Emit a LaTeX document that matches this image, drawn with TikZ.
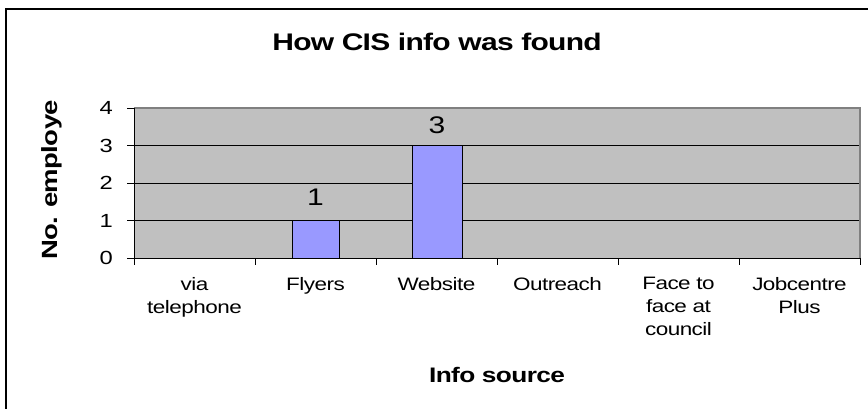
\documentclass[tikz,border=0pt]{standalone}
\usepackage{fontspec}
\setmainfont{Liberation Sans}[FakeStretch=1.25, LetterSpace=-3]
\definecolor{plotgray}{HTML}{C0C0C0}
\definecolor{barblue}{HTML}{9999FF}
\definecolor{edgegray}{HTML}{808080}
\tikzset{%
  bar/.style={draw=black, fill=barblue, line width=1pt},
  ticklabel/.style={anchor=east, inner sep=0pt, font=\fontsize{19}{19}\selectfont},
  catlabel/.style={anchor=north, inner sep=0pt, align=center, font=\fontsize{18}{23}\selectfont},
  datalabel/.style={anchor=base, inner sep=0pt, font=\fontsize{24}{24}\selectfont},
  charttitle/.style={anchor=base, inner sep=0pt, font=\bfseries\fontsize{24}{24}\selectfont},
  axistitle/.style={anchor=base, inner sep=0pt, font=\bfseries\fontsize{21}{21}\selectfont},
}
% one category step and one unit of the value axis, in pixels
\newcommand{\catw}{121}
\newcommand{\unith}{37.5}
\begin{document}
\begin{tikzpicture}[x=1pt, y=-1pt]
  \useasboundingbox (0,0) rectangle (868,408);
  % chart frame, cut at the right and bottom
  \draw[line width=1.5pt] (6,9) rectangle (890,430);
  \node[charttitle] (title) at (437,50) {How CIS info was found};
  % plot area and grid
  \fill[plotgray] (134,108) rectangle (860,258);
  \foreach \v in {1,2,3}{
    \draw[line width=0.8pt] (134,258-\unith*\v) -- (860,258-\unith*\v);
  }
  \draw[edgegray, line width=1.5pt] (134,108) -- (860,108) -- (860,258);
  % value axis
  \draw[line width=0.8pt] (134,108) -- (134,258) -- (860,258);
  \foreach \v in {0,...,4}{
    \draw[line width=0.8pt] (127,258-\unith*\v) -- (134,258-\unith*\v);
    \node[ticklabel] (tick-\v) at (113,258-\unith*\v) {\v};
  }
  % category axis
  \foreach \i in {0,...,6}{
    \draw[line width=0.8pt] (134+\catw*\i,258) -- (134+\catw*\i,265);
  }
  \foreach \i/\t in {1/via\\telephone, 2/Flyers, 3/Website, 4/Outreach,
                     5/Face to\\face at\\council, 6/Jobcentre\\Plus}{
    \node[catlabel] (cat-\i) at (134+\catw*\i-\catw/2,277) {\t};
  }
  % bars with their values
  \draw[bar] (292,258) rectangle (339,220.5);
  \node[datalabel] (val-2) at (315.5,205) {1};
  \draw[bar] (412,258) rectangle (462,145.5);
  \node[datalabel] (val-3) at (437,133) {3};
  % axis titles
  \node[axistitle] (xtitle) at (497,382) {Info source};
  \node[axistitle, rotate=90, font=\bfseries\fontsize{22}{22}\selectfont] (ytitle) at (57,180) {No. employe};
\end{tikzpicture}
\end{document}
